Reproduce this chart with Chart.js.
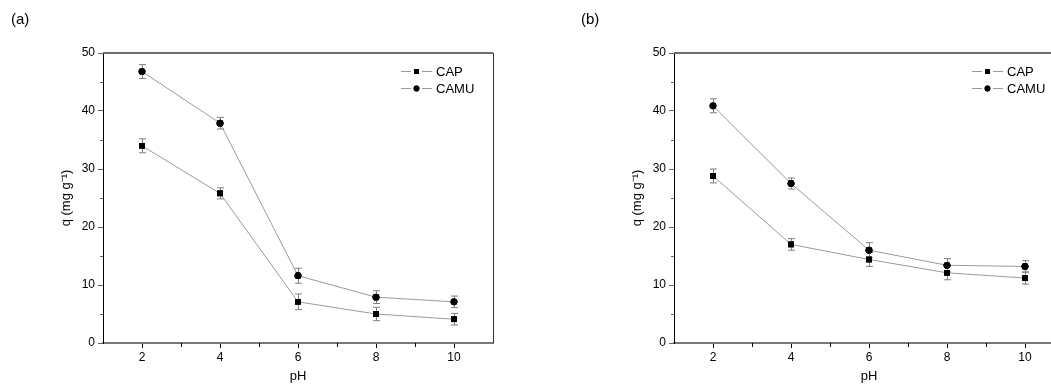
<!DOCTYPE html>
<html>
<head>
<meta charset="utf-8">
<script src="https://cdn.jsdelivr.net/npm/chart.js@4/dist/chart.umd.min.js"></script>
<style>
   body { margin: 0; width: 1051px; height: 385px; overflow: hidden; background: #fff; position: relative; font-family: "Liberation Sans", Arial, sans-serif; }
   .panel { position: absolute; top: 0; width: 520px; height: 385px; }
   .tag { position: absolute; top: 10px; font-size: 15px; color: #000; }
</style>
</head>
<body>
<div class="panel" style="left:0"><canvas id="chartA" width="520" height="385"></canvas></div>
<div class="panel" style="left:571px"><canvas id="chartB" width="520" height="385"></canvas></div>
<div class="tag" style="left:11px">(a)</div>
<div class="tag" style="left:581px">(b)</div>
<script>
// pH values on x axis
const phValues = [2, 4, 6, 8, 10];
const xMajor = [2, 4, 6, 8, 10];
const xMinor = [3, 5, 7, 9];
const yMinor = [5, 15, 25, 35, 45];
const seriesNames = ['CAP', 'CAMU'];

// panel (a)
const capA = [34.0, 25.8, 7.1, 5.0, 4.1];
const capAErr = [1.2, 0.95, 1.35, 1.15, 1.0];
const camuA = [46.8, 37.9, 11.6, 7.9, 7.1];
const camuAErr = [1.2, 1.0, 1.3, 1.1, 1.0];

// panel (b)
const capB = [28.8, 17.0, 14.4, 12.1, 11.2];
const capBErr = [1.2, 1.0, 1.2, 1.2, 1.05];
const camuB = [40.9, 27.5, 16.0, 13.4, 13.2];
const camuBErr = [1.2, 0.95, 1.3, 1.15, 1.0];

const FONT = '"Liberation Sans", Arial, sans-serif';

// error bars + markers on top of them
const errorBars = {
   id: 'errorBars',
   afterDatasetsDraw(chart) {
      const {ctx, scales: {x, y}} = chart;
      ctx.save();
      ctx.strokeStyle = '#808080';
      ctx.lineWidth = 1;
      chart.data.datasets.forEach(ds => {
         ds.data.forEach((p, i) => {
            const px = Math.round(x.getPixelForValue(p.x)) + 0.5;
            const top = y.getPixelForValue(p.y + ds.errors[i]);
            const bot = y.getPixelForValue(p.y - ds.errors[i]);
            ctx.beginPath();
            ctx.moveTo(px, top); ctx.lineTo(px, bot);
            ctx.moveTo(px - 3.5, top); ctx.lineTo(px + 3.5, top);
            ctx.moveTo(px - 3.5, bot); ctx.lineTo(px + 3.5, bot);
            ctx.stroke();
         });
      });
      chart.data.datasets.forEach((ds, di) => {
         chart.getDatasetMeta(di).data.forEach(pt => {
            Chart.helpers.drawPoint(ctx, {pointStyle: ds.pointStyle, radius: ds.pointRadius, borderWidth: 0}, pt.x, pt.y);
            ctx.fillStyle = '#000';
            ctx.fill();
         });
      });
      ctx.restore();
   }
};

// frame (top + right), minor ticks, legend
const frame = {
   id: 'frame',
   afterDraw(chart) {
      const {ctx, chartArea: a, scales: {x, y}} = chart;
      ctx.save();
      ctx.strokeStyle = '#6e6e6e';
      ctx.lineWidth = 2;
      ctx.beginPath();
      ctx.moveTo(a.left, a.top); ctx.lineTo(a.right, a.top);
      ctx.stroke();
      ctx.strokeStyle = '#333';
      ctx.lineWidth = 1;
      ctx.beginPath();
      ctx.moveTo(a.right + 0.5, a.top); ctx.lineTo(a.right + 0.5, a.bottom);
      ctx.stroke();

      ctx.beginPath();
      ctx.strokeStyle = '#000';
      xMinor.forEach(v => {
         const px = Math.round(x.getPixelForValue(v)) + 0.5;
         ctx.moveTo(px, a.bottom); ctx.lineTo(px, a.bottom + 4);
      });
      ctx.stroke();
      ctx.beginPath();
      ctx.strokeStyle = '#666';
      yMinor.forEach(v => {
         const py = Math.round(y.getPixelForValue(v)) + 0.5;
         ctx.moveTo(a.left - 3, py); ctx.lineTo(a.left, py);
      });
      ctx.stroke();

      // legend
      const lx = a.right - 92;
      chart.data.datasets.forEach((ds, i) => {
         const ly = a.top + 18 + i * 17;
         ctx.strokeStyle = '#999';
         ctx.lineWidth = 1;
         ctx.beginPath();
         ctx.moveTo(lx, ly + 0.5); ctx.lineTo(lx + 10, ly + 0.5);
         ctx.moveTo(lx + 21, ly + 0.5); ctx.lineTo(lx + 31, ly + 0.5);
         ctx.stroke();
         Chart.helpers.drawPoint(ctx, {pointStyle: ds.pointStyle, radius: ds.pointRadius - 0.5, borderWidth: 0}, lx + 15.5, ly + 0.5);
         ctx.fillStyle = '#000';
         ctx.fill();
         ctx.font = '13px ' + FONT;
         ctx.textBaseline = 'middle';
         ctx.fillText(ds.label, lx + 35, ly + 1);
      });
      ctx.restore();
   }
};

function makeChart(id, cap, capErr, camu, camuErr) {
   const toPts = arr => arr.map((v, i) => ({x: phValues[i], y: v}));
   return new Chart(document.getElementById(id), {
      type: 'line',
      data: {
         datasets: [
            {label: seriesNames[0], data: toPts(cap), errors: capErr, pointStyle: 'rect', pointRadius: 4},
            {label: seriesNames[1], data: toPts(camu), errors: camuErr, pointStyle: 'circle', pointRadius: 3.4}
         ].map(d => Object.assign(d, {
            borderColor: '#9a9a9a', borderWidth: 1, backgroundColor: '#000',
            pointBackgroundColor: '#000', pointBorderWidth: 0, tension: 0
         }))
      },
      options: {
         responsive: false,
         animation: false,
         events: [],
         layout: {padding: {top: 53, right: 27, left: 59, bottom: 0}},
         plugins: {legend: {display: false}, tooltip: {enabled: false}},
         scales: {
            x: {
               type: 'linear', min: 1, max: 11,
               afterBuildTicks: s => { s.ticks = xMajor.map(v => ({value: v})); },
               afterFit: s => { s.height = 42; },
               grid: {drawOnChartArea: false, tickLength: 5, tickColor: '#000', tickWidth: 1},
               border: {color: '#777', width: 2},
               ticks: {color: '#000', padding: 2, font: {family: FONT, size: 12}},
               title: {display: true, text: 'pH', color: '#000', font: {family: FONT, size: 13}, padding: {top: 0, bottom: 1}}
            },
            y: {
               min: 0, max: 50,
               afterFit: s => { s.width = 44; },
               grid: {drawOnChartArea: false, tickLength: 5, tickColor: '#666', tickWidth: 1},
               border: {color: '#000', width: 1},
               ticks: {stepSize: 10, color: '#000', padding: 3, font: {family: FONT, size: 12}},
               title: {display: true, text: 'q (mg g⁻¹)', color: '#000', font: {family: FONT, size: 13}, padding: {top: 0, bottom: 0}}
            }
         }
      },
      plugins: [errorBars, frame]
   });
}

makeChart('chartA', capA, capAErr, camuA, camuAErr);
makeChart('chartB', capB, capBErr, camuB, camuBErr);
</script>
</body>
</html>
